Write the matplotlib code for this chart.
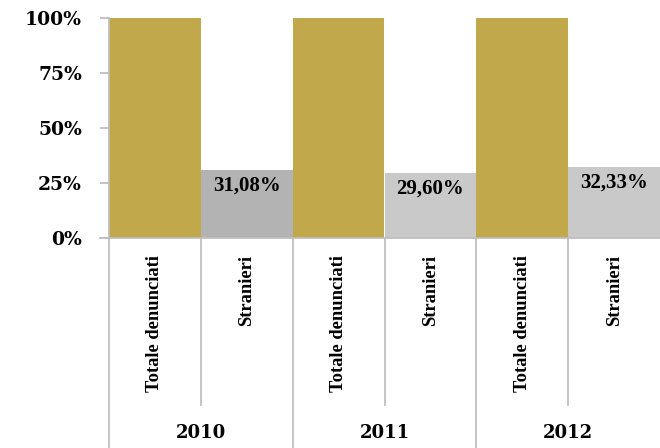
import matplotlib
matplotlib.use("Agg")
import matplotlib.pyplot as plt
import matplotlib.transforms as mtransforms

# Data
years = ["2010", "2011", "2012"]
bar_labels = ["Totale denunciati", "Stranieri"]
totale = [100.0, 100.0, 100.0]
stranieri = [31.08, 29.60, 32.33]
stranieri_text = ["31,08%", "29,60%", "32,33%"]
y_ticks = [0, 25, 50, 75, 100]
y_tick_labels = ["0%", "25%", "50%", "75%", "100%"]

GOLD = "#C0A84B"
GRAY_DARK = "#B3B3B3"
GRAY_LIGHT = "#C9C9C9"
LINE = "#BFBFBF"
LW = 1.3

W, H = 660, 448
fig = plt.figure(figsize=(W / 100, H / 100), dpi=100)
ax = fig.add_axes([109 / W, 1 - 238 / H, (660 - 109) / W, (238 - 18) / H])

values = []
colors = []
for i in range(len(years)):
    values += [totale[i], stranieri[i]]
    colors += [GOLD, GRAY_DARK if i == 0 else GRAY_LIGHT]
xs = list(range(len(values)))

ax.bar(xs, values, width=1.0, color=colors, edgecolor="none", zorder=2)
ax.set_xlim(-0.5, len(values) - 0.5)
ax.set_ylim(0, 100)

# value labels inside the Stranieri bars
serif = "Liberation Serif"
for i, v in enumerate(stranieri):
    ax.text(2 * i + 1, v - 2.5, stranieri_text[i], ha="center", va="top",
            fontsize=15, fontweight="bold", family=serif, color="black", zorder=3)

# axes styling
for s in ["top", "right"]:
    ax.spines[s].set_visible(False)
ax.spines["left"].set_color(LINE)
ax.spines["left"].set_linewidth(LW)
ax.spines["bottom"].set_color(LINE)
ax.spines["bottom"].set_linewidth(LW)
ax.set_yticks(y_ticks)
ax.set_yticklabels(y_tick_labels, family="DejaVu Serif", fontweight="bold", fontsize=13.5)
ax.tick_params(axis="y", length=6.5, width=LW, color=LINE, pad=13)
ax.set_xticks([])

# category separators below the axis
trans = mtransforms.blended_transform_factory(ax.transData, fig.transFigure)
y_axis = 1 - 238 / H
for k in range(len(values)):
    edge = k - 0.5
    if k % 2 == 0:
        y_end = 0.0
    else:
        y_end = 1 - 405 / H
    ax.plot([edge, edge], [y_axis, y_end], color=LINE, lw=LW,
            transform=trans, clip_on=False, zorder=1)
# baseline tick to the left of the axis
ax.plot([-0.5 - 9 / 91.8, -0.5], [y_axis, y_axis], color=LINE, lw=LW,
        transform=trans, clip_on=False)

# rotated category labels
for k, x in enumerate(xs):
    ax.text(x, 1 - 255 / H, bar_labels[k % 2], rotation=90, ha="center", va="top",
            fontsize=13.3, fontweight="bold", family=serif, transform=trans)

# year labels
for i, yr in enumerate(years):
    ax.text(2 * i + 0.5, 1 - 433 / H, yr, ha="center", va="center",
            fontsize=13, fontweight="bold", family="DejaVu Serif", transform=trans)

fig.savefig("out.png", dpi=100)
